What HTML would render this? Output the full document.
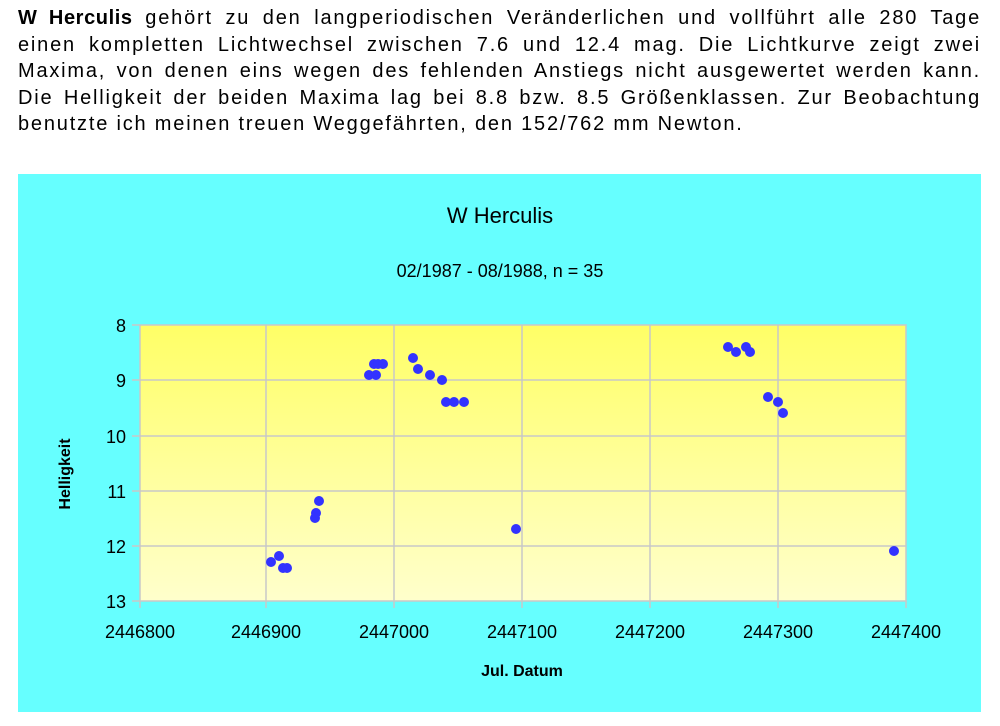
<!DOCTYPE html>
<html><head><meta charset="utf-8"><style>
body{margin:0;width:1000px;height:726px;background:#fff;font-family:"Liberation Sans",Arial,sans-serif;overflow:hidden;position:relative}
#p{position:absolute;left:18px;top:5px;width:963px;font-size:20px;line-height:26.5px;color:#000;letter-spacing:1.8px}
#p div{text-align:justify;text-align-last:justify;white-space:nowrap}
#p div.l{text-align-last:left}
</style></head><body>
<div id="p">
<div><b style="letter-spacing:0.6px">W Herculis</b> gehört zu den langperiodischen Veränderlichen und vollführt alle 280 Tage</div>
<div>einen kompletten Lichtwechsel zwischen 7.6 und 12.4 mag. Die Lichtkurve zeigt zwei</div>
<div>Maxima, von denen eins wegen des fehlenden Anstiegs nicht ausgewertet werden kann.</div>
<div>Die Helligkeit der beiden Maxima lag bei 8.8 bzw. 8.5 Größenklassen. Zur Beobachtung</div>
<div class="l">benutzte ich meinen treuen Weggefährten, den 152/762 mm Newton.</div>
</div>
<svg style="position:absolute;left:0;top:0" width="1000" height="726" font-family="Liberation Sans,Arial,sans-serif">
<defs><linearGradient id="g" x1="0" y1="0" x2="0" y2="1"><stop offset="0" stop-color="#ffff66"/><stop offset="1" stop-color="#ffffcc"/></linearGradient></defs>
<rect x="18" y="174" width="963" height="538" fill="#66ffff"/>
<rect x="140" y="325" width="766" height="276" fill="url(#g)"/>
<g stroke="#c8c8c8" stroke-width="1.5">
<line x1="140" x2="906" y1="380" y2="380"/><line x1="140" x2="906" y1="436" y2="436"/><line x1="140" x2="906" y1="491" y2="491"/><line x1="140" x2="906" y1="546" y2="546"/>
<line x1="266" x2="266" y1="325" y2="601"/><line x1="394" x2="394" y1="325" y2="601"/><line x1="522" x2="522" y1="325" y2="601"/><line x1="650" x2="650" y1="325" y2="601"/><line x1="778" x2="778" y1="325" y2="601"/>
<rect x="140" y="325" width="766" height="276" fill="none"/>
<line x1="132" x2="140" y1="325" y2="325"/><line x1="132" x2="140" y1="380" y2="380"/><line x1="132" x2="140" y1="436" y2="436"/><line x1="132" x2="140" y1="491" y2="491"/><line x1="132" x2="140" y1="546" y2="546"/><line x1="132" x2="140" y1="601" y2="601"/>
<line x1="140" x2="140" y1="601" y2="608"/><line x1="266" x2="266" y1="601" y2="608"/><line x1="394" x2="394" y1="601" y2="608"/><line x1="522" x2="522" y1="601" y2="608"/><line x1="650" x2="650" y1="601" y2="608"/><line x1="778" x2="778" y1="601" y2="608"/><line x1="906" x2="906" y1="601" y2="608"/>
</g>
<g font-size="18" text-anchor="end" fill="#000">
<text x="126" y="332">8</text><text x="126" y="387">9</text><text x="126" y="443">10</text><text x="126" y="498">11</text><text x="126" y="553">12</text><text x="126" y="608">13</text>
</g>
<g font-size="18" text-anchor="middle" fill="#000">
<text x="140" y="638">2446800</text><text x="266" y="638">2446900</text><text x="394" y="638">2447000</text><text x="522" y="638">2447100</text><text x="650" y="638">2447200</text><text x="778" y="638">2447300</text><text x="906" y="638">2447400</text>
<text x="500" y="223" font-size="22">W Herculis</text>
<text x="500" y="277" font-size="18">02/1987 - 08/1988, n = 35</text>
<text x="522" y="676" font-size="16" font-weight="bold">Jul. Datum</text>
<text transform="translate(70,474) rotate(-90)" font-size="16" font-weight="bold">Helligkeit</text>
</g>
<g fill="#3333ff">
<circle cx="271" cy="562" r="5"/><circle cx="279" cy="556" r="5"/><circle cx="283" cy="568" r="5"/><circle cx="287" cy="568" r="5"/>
<circle cx="315" cy="518" r="5"/><circle cx="316" cy="513" r="5"/><circle cx="319" cy="501" r="5"/>
<circle cx="369" cy="375" r="5"/><circle cx="376" cy="375" r="5"/><circle cx="374" cy="364" r="5"/><circle cx="378" cy="364" r="5"/><circle cx="383" cy="364" r="5"/>
<circle cx="413" cy="358" r="5"/><circle cx="418" cy="369" r="5"/><circle cx="430" cy="375" r="5"/><circle cx="442" cy="380" r="5"/>
<circle cx="446" cy="402" r="5"/><circle cx="454" cy="402" r="5"/><circle cx="464" cy="402" r="5"/>
<circle cx="516" cy="529" r="5"/>
<circle cx="728" cy="347" r="5"/><circle cx="736" cy="352" r="5"/><circle cx="746" cy="347" r="5"/><circle cx="750" cy="352" r="5"/>
<circle cx="768" cy="397" r="5"/><circle cx="778" cy="402" r="5"/><circle cx="783" cy="413" r="5"/>
<circle cx="894" cy="551" r="5"/>
</g>
</svg>
</body></html>
